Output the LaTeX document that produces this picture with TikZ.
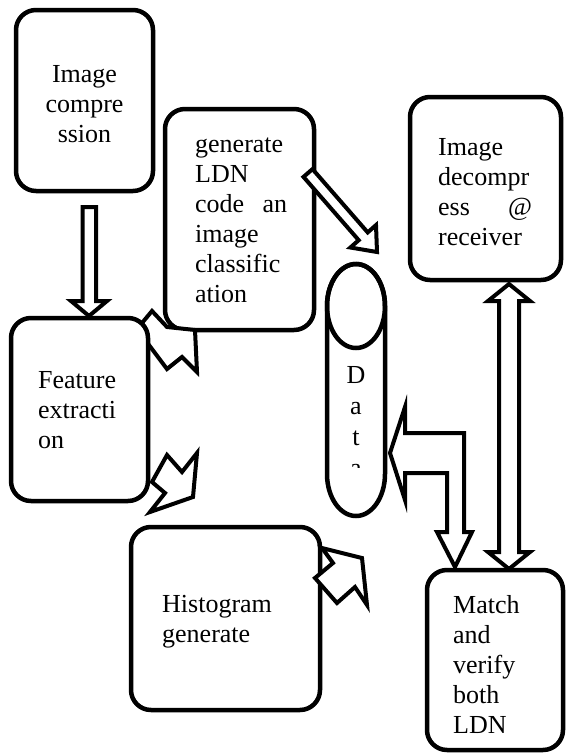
\documentclass[tikz,border=0pt]{standalone}
\usepackage{fontspec}
\setmainfont{Liberation Serif}
\begin{document}
\begin{tikzpicture}[x=1pt,y=-1pt,
  box/.style={draw, line width=4.5pt, rounded corners=20pt, fill=white, inner sep=0pt},
  blk/.style={draw, line width=4pt, fill=white, line join=miter},
  lbl/.style={inner sep=0pt, anchor=base west, font=\fontsize{26}{30}\selectfont},
  clbl/.style={lbl, anchor=base}]
\useasboundingbox (0,0) rectangle (568,756);
% boxes
\node[box, minimum width=137pt, minimum height=181pt] (ic) at (84.5,100.5) {};
\node[box, minimum width=149pt, minimum height=221pt] (gl) at (239.5,219.5) {};
\node[box, minimum width=151pt, minimum height=183pt] (dec) at (485.5,188.5) {};
% arrow between feature extraction and generate box (partly behind feature box)
\draw[blk] (152,311) -- (167,327) -- (195,330) -- (197,372) -- (182,357) -- (167,369) -- (137,329) -- cycle;
\node[box, minimum width=137pt, minimum height=183pt] (fe) at (79.5,409.5) {};
\node[box, minimum width=189pt, minimum height=183pt] (hg) at (225.5,618.5) {};
\node[box, minimum width=136pt, minimum height=180pt] (mv) at (495,660) {};
% texts
\node[clbl] (ic1) at (84.5,82) {Image};
\node[clbl] (ic2) at (84.5,112) {compre};
\node[clbl] (ic3) at (84.5,142) {ssion};
\node[lbl] (gl1) at (195,152) {generate};
\node[lbl] (gl2) at (195,182) {LDN};
\node[lbl] (gl3) at (195,212) {\makebox[92pt][s]{code an}};
\node[lbl] (gl4) at (195,242) {image};
\node[lbl] (gl5) at (195,272) {classific};
\node[lbl] (gl6) at (195,302) {ation};
\node[lbl] (dc1) at (438,155) {Image};
\node[lbl] (dc2) at (438,185) {decompr};
\node[lbl] (dc3) at (438,215) {\makebox[94pt][s]{ess @}};
\node[lbl] (dc4) at (438,245) {receiver};
\node[lbl] (fe1) at (38,388) {Feature};
\node[lbl] (fe2) at (38,418) {extracti};
\node[lbl] (fe3) at (38,448) {on};
\node[lbl] (hg1) at (162,612) {Histogram};
\node[lbl] (hg2) at (162,642) {generate};
\node[lbl] (mv1) at (453,613) {Match};
\node[lbl] (mv2) at (453,643) {and};
\node[lbl] (mv3) at (453,673) {verify};
\node[lbl] (mv4) at (453,703) {both};
\node[lbl] (mv5) at (453,733) {LDN};
% data cylinder
\draw[line width=4.5pt, fill=white] (327,306) -- (327,474) arc[start angle=180, end angle=360, x radius=29, y radius=-42] -- (385,306) arc[start angle=0, end angle=180, x radius=29, y radius=-42] -- cycle;
\draw[line width=4.5pt] (356,306) ellipse[x radius=29, y radius=42];
\coordinate (db) at (356,306);
\begin{scope}
\clip (330,350) rectangle (382,467);
\node[clbl] (d1) at (356,383) {D};
\node[clbl] (d2) at (356,414) {a};
\node[clbl] (d3) at (356,445) {t};
\node[clbl] (d4) at (356,476) {a};
\end{scope}
% block arrows
\draw[blk] (82.5,207) -- (96,207) -- (96,301) -- (107,301) -- (89,316) -- (71,301) -- (82.5,301) -- cycle;
\draw[blk] (509,284) -- (530,301) -- (519,301) -- (519,552) -- (530,552) -- (509,569) -- (488,552) -- (499,552) -- (499,301) -- (488,301) -- cycle;
\draw[blk] (312.5,169.1) -- (367.7,232.4) -- (376,225.1) -- (377,252) -- (350.4,247.5) -- (358.7,240.2) -- (303.5,176.9) -- cycle;
\draw[blk] (390,453) -- (405,407) -- (405,433) -- (464,433) -- (464,532) -- (472,532) -- (455,567) -- (437,532) -- (447,532) -- (447,473) -- (405,473) -- (405,500) -- cycle;
\draw[blk] (167,455) -- (182,472) -- (197,453) -- (193,497) -- (150,512) -- (165,493) -- (152,482) -- cycle;
\draw[blk] (322,548) -- (362,558) -- (367,605) -- (355,587) -- (337,603) -- (315,578) -- (333,563) -- cycle;
\end{tikzpicture}
\end{document}
